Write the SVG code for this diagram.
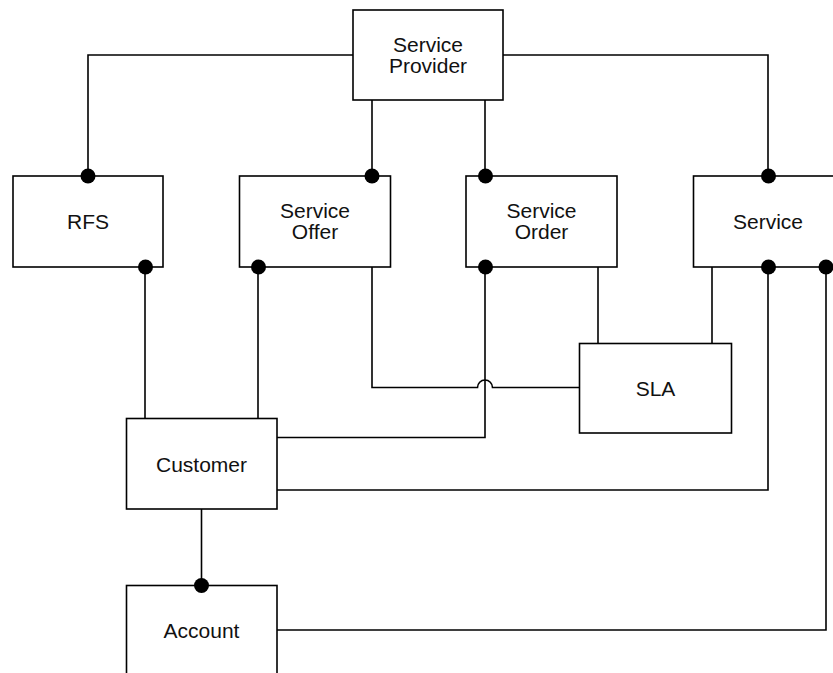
<svg xmlns="http://www.w3.org/2000/svg" width="833" height="673" viewBox="0 0 833 673">
  <style>
    .box { fill: #ffffff; stroke: #000000; stroke-width: 1.6; }
    .wire { fill: none; stroke: #000000; stroke-width: 1.6; }
    .dot { fill: #000000; }
    .label { font-family: "Liberation Sans", Arial, sans-serif; font-size: 21px; fill: #111111; text-anchor: middle; }
  </style>

  <!-- connectors -->
  <g id="connectors">
    <path class="wire" d="M353,55 H88 V176"/>
    <path class="wire" d="M372,100 V176"/>
    <path class="wire" d="M485,100 V176"/>
    <path class="wire" d="M503,55 H768 V176"/>
    <path class="wire" d="M145,267 V418"/>
    <path class="wire" d="M258,267 V418"/>
    <path class="wire" d="M372,267 V387.5 H477.5 A7.5,7.5 0 0 1 492.5,387.5 H579"/>
    <path class="wire" d="M485,267 V437.5 H277"/>
    <path class="wire" d="M598,267 V343"/>
    <path class="wire" d="M712,267 V343"/>
    <path class="wire" d="M768,267 V490 H277"/>
    <path class="wire" d="M201.5,509 V585"/>
    <path class="wire" d="M826,267 V630 H277"/>
  </g>

  <g id="service-provider">
    <rect class="box" x="353" y="10" width="150" height="90"/>
    <text class="label" x="428" y="51.5">Service</text>
    <text class="label" x="428" y="72.5">Provider</text>
  </g>

  <g id="rfs">
    <rect class="box" x="13" y="176" width="150" height="91"/>
    <text class="label" x="88" y="229">RFS</text>
  </g>

  <g id="service-offer">
    <rect class="box" x="239.5" y="176" width="151" height="91"/>
    <text class="label" x="315" y="217.5">Service</text>
    <text class="label" x="315" y="238.5">Offer</text>
  </g>

  <g id="service-order">
    <rect class="box" x="466" y="176" width="151" height="91"/>
    <text class="label" x="541.5" y="217.5">Service</text>
    <text class="label" x="541.5" y="238.5">Order</text>
  </g>

  <g id="service">
    <rect class="box" x="693.5" y="176" width="151" height="91"/>
    <text class="label" x="768" y="229">Service</text>
  </g>

  <g id="sla">
    <rect class="box" x="579.5" y="343.5" width="152" height="89.5"/>
    <text class="label" x="655.5" y="395.5">SLA</text>
  </g>

  <g id="customer">
    <rect class="box" x="126.5" y="418.5" width="150.5" height="90.5"/>
    <text class="label" x="201.5" y="472">Customer</text>
  </g>

  <g id="account">
    <rect class="box" x="126.5" y="585.5" width="150.5" height="90"/>
    <text class="label" x="201.5" y="637.5">Account</text>
  </g>

  <!-- connection end points -->
  <g id="endpoints">
    <circle class="dot" cx="88" cy="176" r="7.5"/>
    <circle class="dot" cx="145.5" cy="267" r="7.5"/>
    <circle class="dot" cx="372" cy="176" r="7.5"/>
    <circle class="dot" cx="258.5" cy="267" r="7.5"/>
    <circle class="dot" cx="485.5" cy="176" r="7.5"/>
    <circle class="dot" cx="485.5" cy="267" r="7.5"/>
    <circle class="dot" cx="768.5" cy="176" r="7.5"/>
    <circle class="dot" cx="768.5" cy="267" r="7.5"/>
    <circle class="dot" cx="826" cy="267" r="7.5"/>
    <circle class="dot" cx="201.5" cy="585.5" r="7.5"/>
  </g>
</svg>
